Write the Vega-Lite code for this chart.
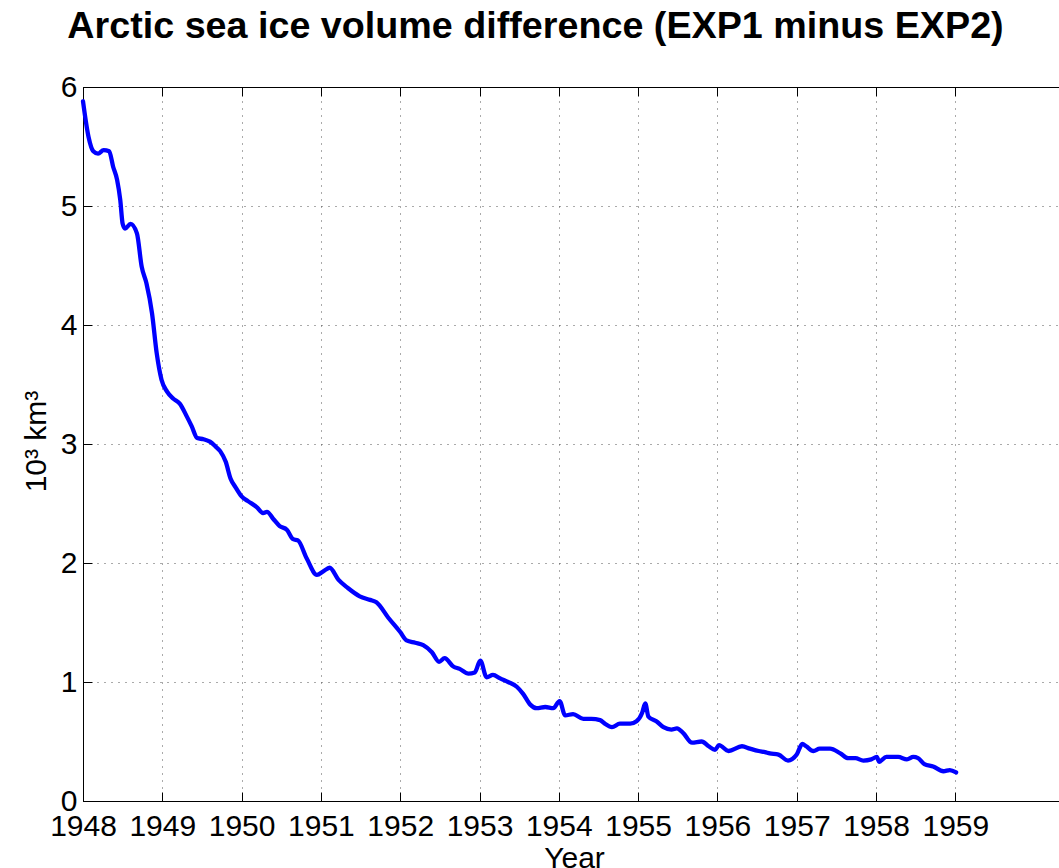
{
  "$schema": "https://vega.github.io/schema/vega-lite/v6.json",
  "width": 977,
  "height": 714,
  "autosize": {"type": "none"},
  "padding": {"left": 83, "top": 87, "right": 0, "bottom": 67},
  "background": "white",
  "config": {
    "view": {"stroke": "black", "strokeWidth": 1},
    "font": "Liberation Sans"
  },
  "title": {
    "text": "Arctic sea ice volume difference (EXP1 minus EXP2)",
    "font": "Liberation Sans",
    "fontSize": 37.7,
    "fontWeight": "bold",
    "color": "black",
    "anchor": "middle",
    "dx": -36,
    "offset": 26
  },
  "data": {
    "values": [
      {"year": 1948.00, "value": 5.88},
      {"year": 1948.07, "value": 5.58},
      {"year": 1948.13, "value": 5.46},
      {"year": 1948.19, "value": 5.44},
      {"year": 1948.26, "value": 5.47},
      {"year": 1948.33, "value": 5.46},
      {"year": 1948.38, "value": 5.33},
      {"year": 1948.43, "value": 5.22},
      {"year": 1948.47, "value": 5.05},
      {"year": 1948.50, "value": 4.85},
      {"year": 1948.53, "value": 4.81},
      {"year": 1948.60, "value": 4.85},
      {"year": 1948.68, "value": 4.77},
      {"year": 1948.74, "value": 4.49},
      {"year": 1948.80, "value": 4.35},
      {"year": 1948.87, "value": 4.10},
      {"year": 1948.93, "value": 3.76},
      {"year": 1948.99, "value": 3.54},
      {"year": 1949.06, "value": 3.44},
      {"year": 1949.14, "value": 3.38},
      {"year": 1949.22, "value": 3.34},
      {"year": 1949.31, "value": 3.23},
      {"year": 1949.37, "value": 3.15},
      {"year": 1949.44, "value": 3.05},
      {"year": 1949.52, "value": 3.04},
      {"year": 1949.60, "value": 3.02},
      {"year": 1949.67, "value": 2.98},
      {"year": 1949.73, "value": 2.94},
      {"year": 1949.80, "value": 2.85},
      {"year": 1949.86, "value": 2.71},
      {"year": 1949.92, "value": 2.64},
      {"year": 1950.00, "value": 2.56},
      {"year": 1950.08, "value": 2.52},
      {"year": 1950.19, "value": 2.47},
      {"year": 1950.27, "value": 2.42},
      {"year": 1950.32, "value": 2.43},
      {"year": 1950.40, "value": 2.37},
      {"year": 1950.48, "value": 2.31},
      {"year": 1950.57, "value": 2.28},
      {"year": 1950.65, "value": 2.20},
      {"year": 1950.71, "value": 2.19},
      {"year": 1950.82, "value": 2.04},
      {"year": 1950.95, "value": 1.90},
      {"year": 1951.03, "value": 1.93},
      {"year": 1951.11, "value": 1.96},
      {"year": 1951.22, "value": 1.86},
      {"year": 1951.34, "value": 1.79},
      {"year": 1951.49, "value": 1.72},
      {"year": 1951.62, "value": 1.69},
      {"year": 1951.70, "value": 1.67},
      {"year": 1951.85, "value": 1.54},
      {"year": 1952.00, "value": 1.42},
      {"year": 1952.08, "value": 1.35},
      {"year": 1952.19, "value": 1.33},
      {"year": 1952.29, "value": 1.31},
      {"year": 1952.40, "value": 1.25},
      {"year": 1952.49, "value": 1.17},
      {"year": 1952.56, "value": 1.20},
      {"year": 1952.67, "value": 1.13},
      {"year": 1952.75, "value": 1.11},
      {"year": 1952.86, "value": 1.07},
      {"year": 1952.94, "value": 1.08},
      {"year": 1953.01, "value": 1.18},
      {"year": 1953.09, "value": 1.04},
      {"year": 1953.17, "value": 1.06},
      {"year": 1953.26, "value": 1.03},
      {"year": 1953.36, "value": 1.00},
      {"year": 1953.47, "value": 0.96},
      {"year": 1953.55, "value": 0.90},
      {"year": 1953.64, "value": 0.81},
      {"year": 1953.72, "value": 0.78},
      {"year": 1953.83, "value": 0.79},
      {"year": 1953.93, "value": 0.78},
      {"year": 1954.01, "value": 0.84},
      {"year": 1954.08, "value": 0.72},
      {"year": 1954.18, "value": 0.73},
      {"year": 1954.31, "value": 0.69},
      {"year": 1954.41, "value": 0.69},
      {"year": 1954.52, "value": 0.68},
      {"year": 1954.58, "value": 0.65},
      {"year": 1954.67, "value": 0.62},
      {"year": 1954.77, "value": 0.65},
      {"year": 1954.90, "value": 0.65},
      {"year": 1954.98, "value": 0.67},
      {"year": 1955.05, "value": 0.74},
      {"year": 1955.09, "value": 0.82},
      {"year": 1955.13, "value": 0.71},
      {"year": 1955.23, "value": 0.67},
      {"year": 1955.32, "value": 0.62},
      {"year": 1955.42, "value": 0.60},
      {"year": 1955.49, "value": 0.61},
      {"year": 1955.57, "value": 0.57},
      {"year": 1955.68, "value": 0.49},
      {"year": 1955.80, "value": 0.50},
      {"year": 1955.89, "value": 0.46},
      {"year": 1955.97, "value": 0.43},
      {"year": 1956.02, "value": 0.47},
      {"year": 1956.14, "value": 0.42},
      {"year": 1956.31, "value": 0.46},
      {"year": 1956.41, "value": 0.44},
      {"year": 1956.52, "value": 0.42},
      {"year": 1956.60, "value": 0.41},
      {"year": 1956.66, "value": 0.40},
      {"year": 1956.77, "value": 0.39},
      {"year": 1956.89, "value": 0.34},
      {"year": 1957.00, "value": 0.39},
      {"year": 1957.07, "value": 0.48},
      {"year": 1957.12, "value": 0.46},
      {"year": 1957.21, "value": 0.42},
      {"year": 1957.29, "value": 0.44},
      {"year": 1957.42, "value": 0.44},
      {"year": 1957.55, "value": 0.40},
      {"year": 1957.65, "value": 0.36},
      {"year": 1957.74, "value": 0.36},
      {"year": 1957.84, "value": 0.34},
      {"year": 1957.94, "value": 0.35},
      {"year": 1958.01, "value": 0.37},
      {"year": 1958.04, "value": 0.33},
      {"year": 1958.13, "value": 0.37},
      {"year": 1958.28, "value": 0.37},
      {"year": 1958.39, "value": 0.35},
      {"year": 1958.47, "value": 0.37},
      {"year": 1958.53, "value": 0.36},
      {"year": 1958.61, "value": 0.31},
      {"year": 1958.72, "value": 0.29},
      {"year": 1958.85, "value": 0.25},
      {"year": 1958.93, "value": 0.26},
      {"year": 1959.01, "value": 0.24}
    ]
  },
  "layer": [
    {
      "mark": {"type": "line", "color": "#0000FF", "strokeWidth": 4.3, "strokeJoin": "round", "strokeCap": "round", "interpolate": "monotone"},
      "encoding": {
        "x": {
          "field": "year",
          "type": "quantitative",
          "scale": {"domain": [1948, 1960.32], "nice": false, "zero": false},
          "axis": {
            "orient": "bottom",
            "values": [1948, 1949, 1950, 1951, 1952, 1953, 1954, 1955, 1956, 1957, 1958, 1959],
            "format": "d",
            "title": "Year",
            "titleFont": "Liberation Sans",
            "titleFontSize": 30,
            "titleFontWeight": "normal",
            "titleColor": "black",
            "titleX": 491,
            "titleY": 66,
            "titleBaseline": "alphabetic",
            "titleAlign": "center",
            "labelFont": "Liberation Sans",
            "labelFontSize": 30,
            "labelColor": "black",
            "labelBaseline": "alphabetic",
            "labelPadding": 43,
            "labelOverlap": false,
            "labelFlush": false,
            "tickSize": -9,
            "tickColor": "black",
            "tickWidth": 1,
            "domainColor": "black",
            "domainWidth": 1,
            "grid": true,
            "gridColor": "#555555",
            "gridDash": [1, 6],
            "gridWidth": 1
          }
        },
        "y": {
          "field": "value",
          "type": "quantitative",
          "scale": {"domain": [0, 6], "nice": false, "zero": true},
          "axis": {
            "orient": "left",
            "values": [0, 1, 2, 3, 4, 5, 6],
            "title": "10³ km³",
            "titleFont": "Liberation Sans",
            "titleFontSize": 30,
            "titleFontWeight": "normal",
            "titleColor": "black",
            "titleAngle": -90,
            "titleX": -38,
            "titleY": 354,
            "titleBaseline": "alphabetic",
            "titleAlign": "center",
            "labelFont": "Liberation Sans",
            "labelFontSize": 30,
            "labelColor": "black",
            "labelPadding": 15,
            "labelOverlap": false,
            "labelFlush": false,
            "tickSize": -9,
            "tickColor": "black",
            "tickWidth": 1,
            "domainColor": "black",
            "domainWidth": 1,
            "grid": true,
            "gridColor": "#555555",
            "gridDash": [1, 6],
            "gridWidth": 1
          }
        }
      }
    },
    {
      "mark": {"type": "line", "opacity": 0},
      "encoding": {
        "x": {
          "field": "year",
          "type": "quantitative",
          "scale": {"domain": [1948, 1960.32], "nice": false, "zero": false},
          "axis": {
            "orient": "top",
            "values": [1948, 1949, 1950, 1951, 1952, 1953, 1954, 1955, 1956, 1957, 1958, 1959],
            "labels": false,
            "title": null,
            "grid": false,
            "tickSize": -9,
            "tickColor": "black",
            "domainColor": "black"
          }
        },
        "y": {"field": "value", "type": "quantitative", "axis": null}
      }
    }
  ],
  "resolve": {"axis": {"x": "independent", "y": "independent"}}
}
